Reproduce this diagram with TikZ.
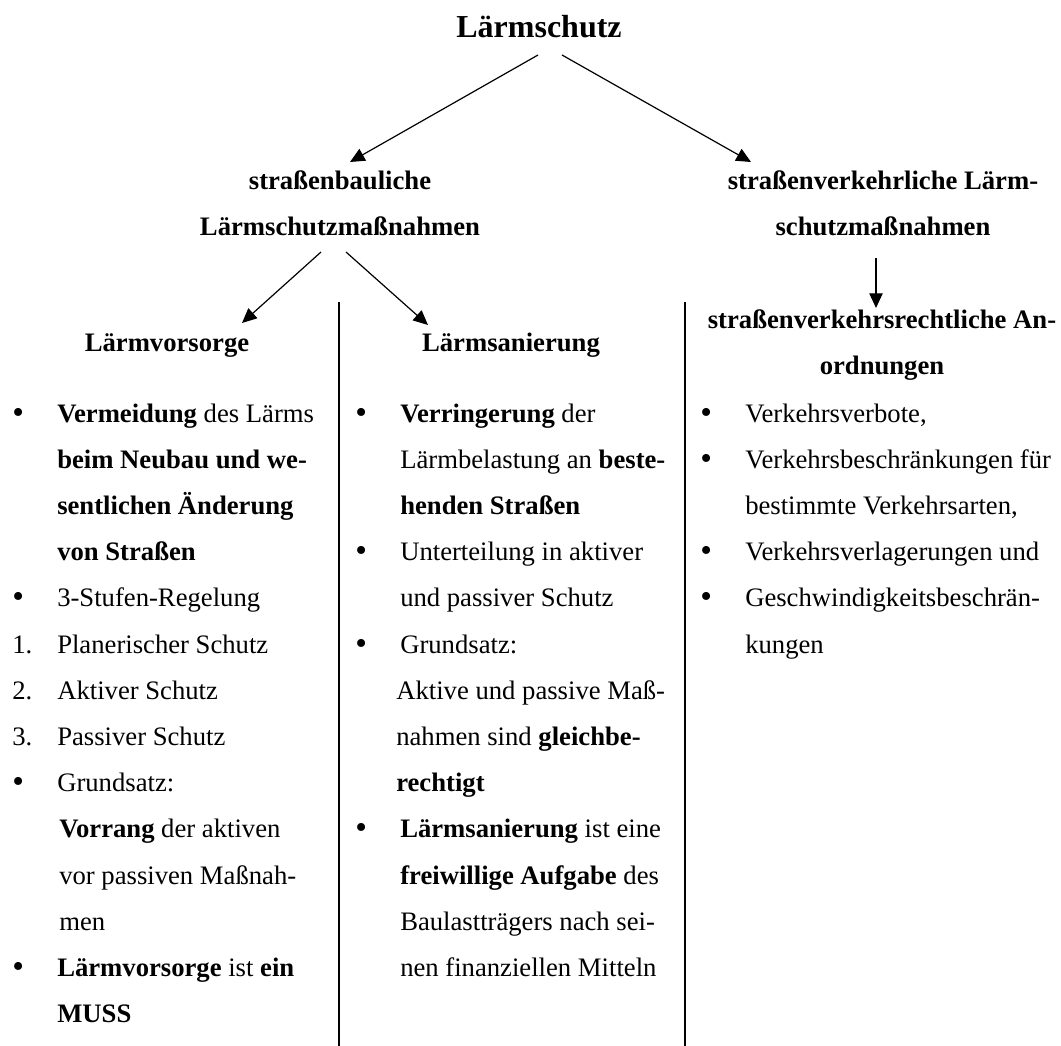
\documentclass[tikz,border=0pt]{standalone}
\usepackage{graphicx}
\usepackage{fontspec}
\setmainfont{Liberation Serif}
\usetikzlibrary{arrows.meta}
\newcommand{\bulmark}{\makebox[33.75pt][l]{\raisebox{-0.8pt}{\scalebox{1.25}{\textbullet}}}}
\newcommand{\nummark}[1]{\makebox[33.75pt][l]{#1}}
\begin{document}
\begin{tikzpicture}[x=0.75pt,y=-0.75pt,
  txt/.style={inner sep=0pt, font=\fontsize{20}{34.65}\selectfont},
  hd/.style={txt, font=\fontsize{20}{34.65}\selectfont\bfseries},
  ttl/.style={inner sep=0pt, font=\fontsize{24}{28}\selectfont\bfseries},
  arr/.style={line width=0.9pt, -{Triangle[length=11pt,width=10pt]}},
  sep/.style={line width=1.1pt}]
\useasboundingbox[fill=white] (0,0) rectangle (1061,1046);

% headings
\node[ttl, anchor=base] (title) at (539,37) {Lärmschutz};
\node[hd, anchor=base] (bau) at (340,189) {\begin{tabular}[t]{@{}c@{}}straßenbauliche\\ Lärmschutzmaßnahmen\end{tabular}};
\node[hd, anchor=base] (verk) at (883,189) {\begin{tabular}[t]{@{}c@{}}straßenverkehrliche Lärm-\\ schutzmaßnahmen\end{tabular}};
\node[hd, anchor=base] (vors) at (167,351) {Lärmvorsorge};
\node[hd, anchor=base] (san) at (511,351) {Lärmsanierung};
\node[hd, anchor=base] (anord) at (882,328) {\begin{tabular}[t]{@{}c@{}}straßenverkehrsrechtliche An-\\ ordnungen\end{tabular}};

% connector end points
\coordinate (tL) at (538,55);  \coordinate (bauTip) at (350,162);
\coordinate (tR) at (562,55);  \coordinate (verkTip) at (751,162);
\coordinate (bL) at (321,252); \coordinate (vorsTip) at (242,323);
\coordinate (bR) at (346,252); \coordinate (sanTip) at (428,325);
\coordinate (vB) at (876,258); \coordinate (anordTip) at (876,308);
\coordinate (s1top) at (339,302); \coordinate (s1bot) at (339,1046);
\coordinate (s2top) at (685,302); \coordinate (s2bot) at (685,1046);

\draw[arr] (tL) -- (bauTip);
\draw[arr] (tR) -- (verkTip);
\draw[arr] (bL) -- (vorsTip);
\draw[arr] (bR) -- (sanTip);
\draw[arr] (vB) -- (anordTip);
\draw[sep] (s1top) -- (s1bot);
\draw[sep] (s2top) -- (s2bot);

% left column
\node[txt, anchor=base west] (colL) at (12,422) {\begin{tabular}[t]{@{}l@{}l@{}}
\bulmark & \textbf{Vermeidung} des Lärms\\
 & \textbf{beim Neubau und we-}\\
 & \textbf{sentlichen Änderung}\\
 & \textbf{von Straßen}\\
\bulmark & 3-Stufen-Regelung\\
\nummark{1.} & Planerischer Schutz\\
\nummark{2.} & Aktiver Schutz\\
\nummark{3.} & Passiver Schutz\\
\bulmark & Grundsatz:\\
 & \hspace{1.5pt}\textbf{Vorrang} der aktiven\\
 & \hspace{1.5pt}vor passiven Maßnah-\\
 & \hspace{1.5pt}men\\
\bulmark & \textbf{Lärmvorsorge} ist \textbf{ein}\\
 & \textbf{MUSS}
\end{tabular}};

% middle column
\node[txt, anchor=base west] (colM) at (355,422) {\begin{tabular}[t]{@{}l@{}l@{}}
\bulmark & \textbf{Verringerung} der\\
 & Lärmbelastung an \textbf{beste-}\\
 & \textbf{henden Straßen}\\
\bulmark & Unterteilung in aktiver\\
 & und passiver Schutz\\
\bulmark & Grundsatz:\\
 & \hspace{-3pt}Aktive und passive Maß-\\
 & \hspace{-3pt}nahmen sind \textbf{gleichbe-}\\
 & \hspace{-3pt}\textbf{rechtigt}\\
\bulmark & \textbf{Lärmsanierung} ist eine\\
 & \textbf{freiwillige Aufgabe} des\\
 & Baulastträgers nach sei-\\
 & nen finanziellen Mitteln
\end{tabular}};

% right column
\node[txt, anchor=base west] (colR) at (700,422) {\begin{tabular}[t]{@{}l@{}l@{}}
\bulmark & Verkehrsverbote,\\
\bulmark & Verkehrsbeschränkungen für\\
 & bestimmte Verkehrsarten,\\
\bulmark & Verkehrsverlagerungen und\\
\bulmark & Geschwindigkeitsbeschrän-\\
 & kungen
\end{tabular}};
\end{tikzpicture}
\end{document}
